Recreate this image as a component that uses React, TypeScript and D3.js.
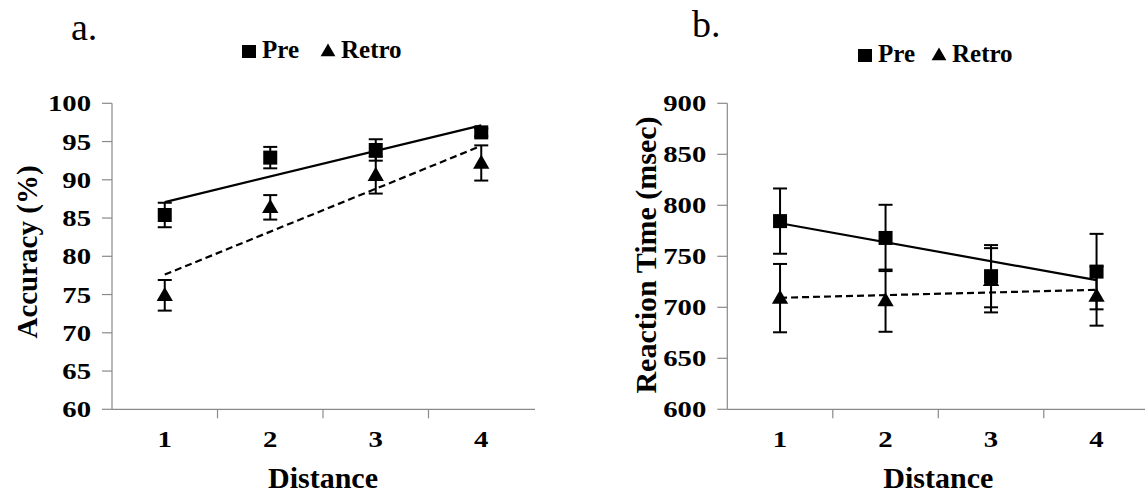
import React from "react";
import * as d3 from "d3";

const distances = ["1", "2", "3", "4"];

const accTicks = [60, 65, 70, 75, 80, 85, 90, 95, 100];
const accPre = [85.4, 92.9, 93.9, 96.2];
const accPreErr = [1.6, 1.4, 1.4, 0.5];
const accRetro = [74.9, 86.4, 90.6, 92.2];
const accRetroErr = [2.0, 1.6, 2.4, 2.3];

const rtTicks = [600, 650, 700, 750, 800, 850, 900];
const rtPre = [784.5, 768, 730.5, 735];
const rtPreErr = [32, 32.5, 30.5, 37];
const rtRetro = [709, 706.5, 726.5, 711];
const rtRetroErr = [33.5, 30.5, 31.5, 29];

const FONT = "'Liberation Serif', 'Times New Roman', serif";

function regression(vals: number[]) {
  const xs = vals.map((_, i) => i + 1);
  const mx = d3.mean(xs) as number;
  const my = d3.mean(vals) as number;
  let num = 0;
  let den = 0;
  xs.forEach((x, i) => {
    num += (x - mx) * (vals[i] - my);
    den += (x - mx) * (x - mx);
  });
  const slope = num / den;
  const icpt = my - slope * mx;
  return (x: number) => icpt + slope * x;
}

type PanelProps = {
  letter: string;
  letterX: number;
  letterY: number;
  legendX: number;
  legendY: number;
  legendGap: number;
  axisX: number;
  axisRight: number;
  yTitle: string;
  yTitleX: number;
  yTitleY: number;
  yTitleSize: number;
  ticks: number[];
  pre: number[];
  preErr: number[];
  retro: number[];
  retroErr: number[];
};

const TICK_SIZE = 23;
const TICK_STRETCH = 1.25;

function Panel(p: PanelProps) {
  const top = 103.3;
  const bottom = 409.3;
  const domain = [p.ticks[0], p.ticks[p.ticks.length - 1]];
  const y = d3.scaleLinear().domain(domain).range([bottom, top]);
  const bandW = 105.5;
  const x = d3
    .scaleBand()
    .domain(distances)
    .range([p.axisX, p.axisX + bandW * distances.length])
    .padding(0);
  const cx = (d: string) => (x(d) as number) + x.bandwidth() / 2;

  const preFit = regression(p.pre);
  const retroFit = regression(p.retro);
  const n = distances.length;
  const line = d3
    .line<number>()
    .x((_, i) => cx(distances[i === 0 ? 0 : n - 1]))
    .y((v) => y(v));
  const preLine = line([preFit(1), preFit(n)]);
  const retroLine = line([retroFit(1), retroFit(n)]);

  const sq = 14;
  const tri = d3.symbol().type(d3.symbolTriangle).size(115)();
  const cap = 7;

  const errBar = (d: string, v: number, e: number, k: string) => (
    <g key={k} stroke="#000" strokeWidth={2}>
      <line x1={cx(d)} x2={cx(d)} y1={y(v + e)} y2={y(v - e)} />
      <line x1={cx(d) - cap} x2={cx(d) + cap} y1={y(v + e)} y2={y(v + e)} />
      <line x1={cx(d) - cap} x2={cx(d) + cap} y1={y(v - e)} y2={y(v - e)} />
    </g>
  );

  return (
    <g fontFamily={FONT}>
      <text x={p.letterX} y={p.letterY} fontSize={38}>
        {p.letter}
      </text>
      {/* legend */}
      <g fontWeight="bold" fontSize={25}>
        <rect x={p.legendX} y={p.legendY - 13} width={14} height={13} fill="#000" />
        <text x={p.legendX + 20} y={p.legendY}>
          Pre
        </text>
        <path
          d={d3.symbol().type(d3.symbolTriangle).size(95)() as string}
          transform={`translate(${p.legendX + p.legendGap + 8},${p.legendY - 6})`}
          fill="#000"
        />
        <text x={p.legendX + p.legendGap + 21} y={p.legendY}>
          Retro
        </text>
      </g>
      {/* axes */}
      <line x1={p.axisX} x2={p.axisX} y1={top} y2={bottom} stroke="#8a8a8a" strokeWidth={1.2} />
      <line x1={p.axisX} x2={p.axisRight} y1={bottom} y2={bottom} stroke="#8a8a8a" strokeWidth={1.2} />
      {p.ticks.map((t) => (
        <g key={t}>
          <line x1={p.axisX - 10} x2={p.axisX} y1={y(t)} y2={y(t)} stroke="#8a8a8a" strokeWidth={1.2} />
          <text
            transform={`translate(${p.axisX - 21},${y(t)}) scale(${TICK_STRETCH},1)`}
            dy="0.35em"
            textAnchor="end"
            fontWeight="bold"
            fontSize={TICK_SIZE}
          >
            {t}
          </text>
        </g>
      ))}
      {distances.slice(1).map((d) => (
        <line
          key={d}
          x1={x(d) as number}
          x2={x(d) as number}
          y1={bottom}
          y2={bottom + 9}
          stroke="#8a8a8a"
          strokeWidth={1.2}
        />
      ))}
      {distances.map((d) => (
        <text
          key={d}
          transform={`translate(${cx(d)},447) scale(${TICK_STRETCH},1)`}
          textAnchor="middle"
          fontWeight="bold"
          fontSize={TICK_SIZE}
        >
          {d}
        </text>
      ))}
      <text
        x={p.axisX + (bandW * n) / 2}
        y={488}
        textAnchor="middle"
        fontWeight="bold"
        fontSize={30}
      >
        Distance
      </text>
      <text
        transform={`translate(${p.yTitleX},${p.yTitleY}) rotate(-90)`}
        textAnchor="middle"
        fontWeight="bold"
        fontSize={p.yTitleSize}
      >
        {p.yTitle}
      </text>
      {/* trend lines */}
      <path d={preLine as string} fill="none" stroke="#000" strokeWidth={2.2} />
      <path d={retroLine as string} fill="none" stroke="#000" strokeWidth={2.2} strokeDasharray="7,4" />
      {/* error bars */}
      {distances.map((d, i) => errBar(d, p.pre[i], p.preErr[i], "pe" + d))}
      {distances.map((d, i) => errBar(d, p.retro[i], p.retroErr[i], "re" + d))}
      {/* markers */}
      {distances.map((d, i) => (
        <rect
          key={"ps" + d}
          x={cx(d) - sq / 2}
          y={y(p.pre[i]) - sq / 2}
          width={sq}
          height={sq}
          fill="#000"
        />
      ))}
      {distances.map((d, i) => (
        <path
          key={"rt" + d}
          d={tri as string}
          transform={`translate(${cx(d)},${y(p.retro[i]) + 1})`}
          fill="#000"
        />
      ))}
    </g>
  );
}

export default function App() {
  return (
    <svg
      width={1145}
      height={493}
      style={{ position: "absolute", left: 0, top: 0, background: "#fff" }}
    >
      <rect width={1145} height={493} fill="#fff" />
      <Panel
        letter="a."
        letterX={71}
        letterY={40}
        legendX={242}
        legendY={58}
        legendGap={78}
        axisX={112}
        axisRight={535}
        yTitle="Accuracy (%)"
        yTitleX={37}
        yTitleY={252}
        yTitleSize={29}
        ticks={accTicks}
        pre={accPre}
        preErr={accPreErr}
        retro={accRetro}
        retroErr={accRetroErr}
      />
      <Panel
        letter="b."
        letterX={692}
        letterY={37}
        legendX={858}
        legendY={62}
        legendGap={73}
        axisX={727.3}
        axisRight={1148}
        yTitle="Reaction Time (msec)"
        yTitleX={656}
        yTitleY={255}
        yTitleSize={30}
        ticks={rtTicks}
        pre={rtPre}
        preErr={rtPreErr}
        retro={rtRetro}
        retroErr={rtRetroErr}
      />
    </svg>
  );
}
